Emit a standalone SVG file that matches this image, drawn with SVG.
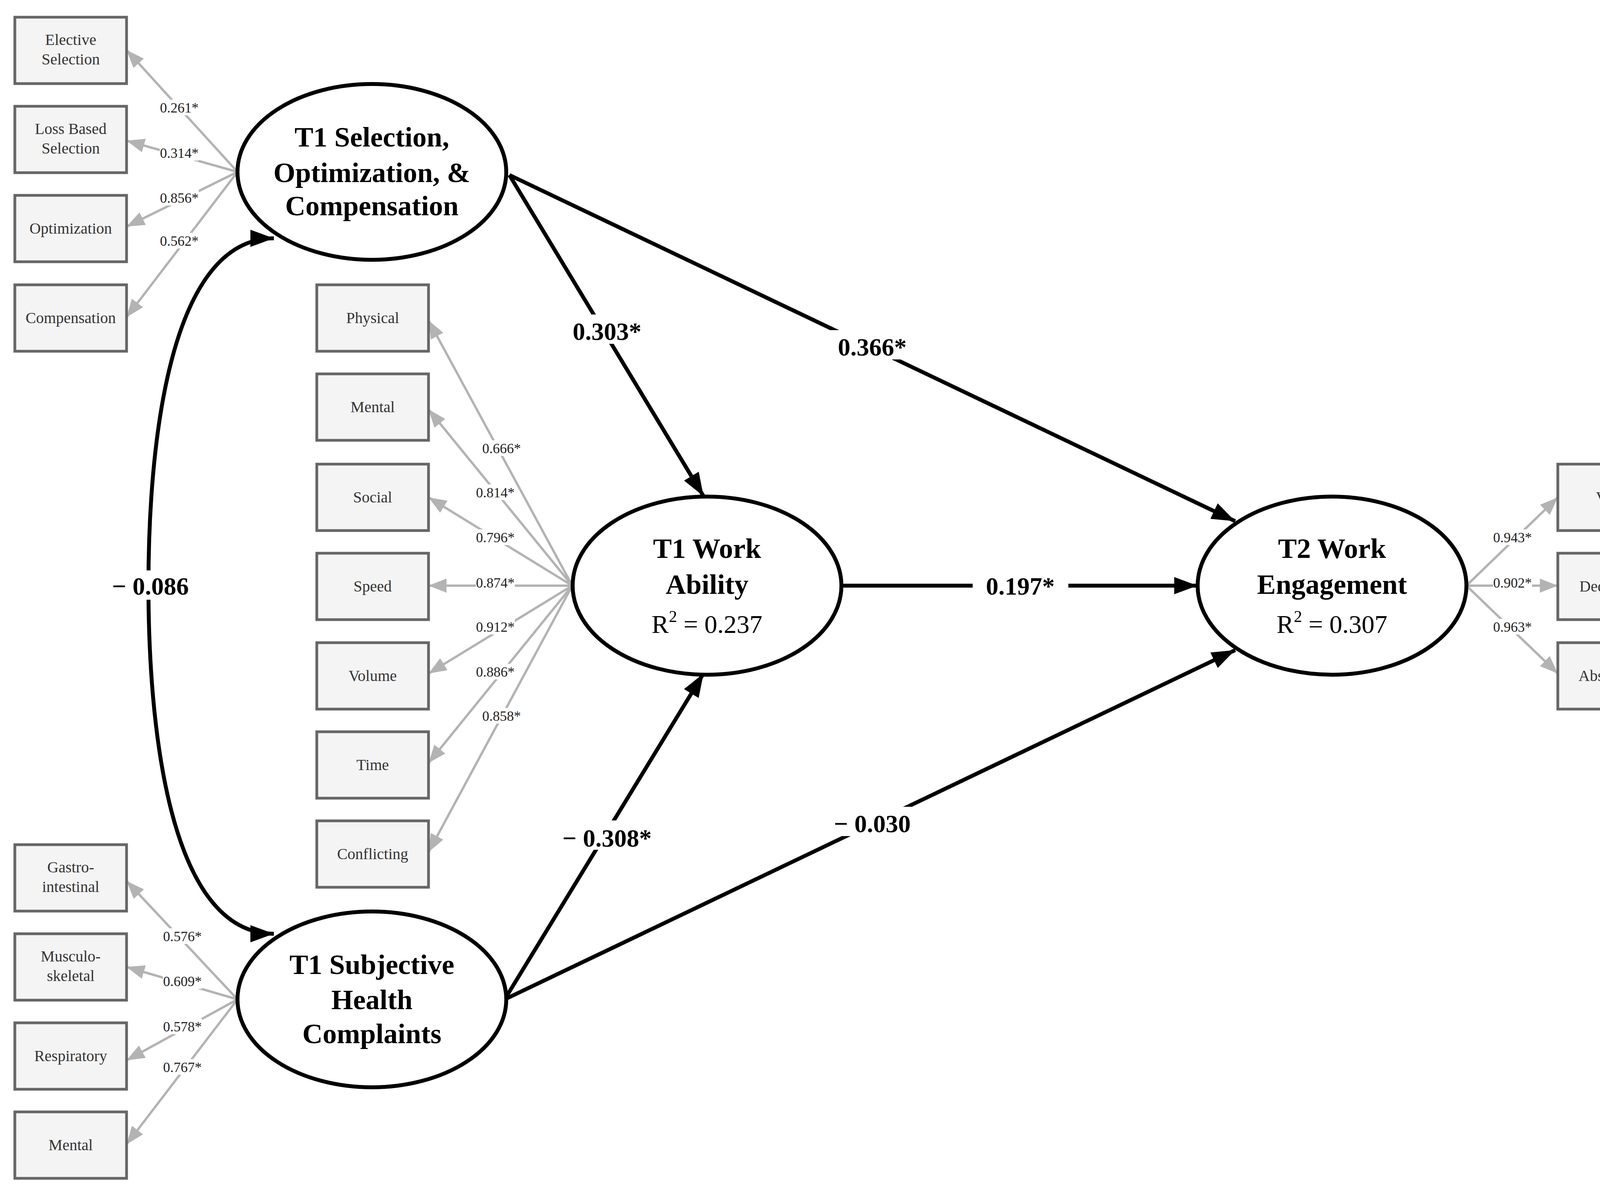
<svg xmlns="http://www.w3.org/2000/svg" width="4312" height="3051" viewBox="0 0 4312 3051">
<style>
.box{fill:#f4f4f4;stroke:#666;stroke-width:7}
.bt{font-family:"Liberation Serif",serif;font-size:40px;fill:#333;text-anchor:middle}
.ell{fill:#fff;stroke:#000;stroke-width:10}
.et{font-family:"Liberation Serif",serif;font-size:72px;font-weight:bold;text-anchor:middle}
.er{font-family:"Liberation Serif",serif;font-size:66px;text-anchor:middle}
.ld{stroke:#b3b3b3;stroke-width:6;fill:none;marker-end:url(#ga)}
.lt{font-family:"Liberation Serif",serif;font-size:36px;text-anchor:middle;fill:#222}
.st{stroke:#000;stroke-width:10;fill:none;marker-end:url(#ba)}
.sl{font-family:"Liberation Serif",serif;font-size:64px;font-weight:bold;text-anchor:middle}
</style>
<defs>
<marker id="ga" markerUnits="userSpaceOnUse" markerWidth="50" markerHeight="40" refX="46" refY="18" orient="auto"><path d="M0,0 L46,18 L0,36 z" fill="#b3b3b3"/></marker>
<marker id="ba" markerUnits="userSpaceOnUse" markerWidth="70" markerHeight="50" refX="60" refY="22" orient="auto"><path d="M0,0 L60,22 L0,44 z" fill="#000"/></marker>
<marker id="bs" markerUnits="userSpaceOnUse" markerWidth="70" markerHeight="50" refX="0" refY="22" orient="auto"><path d="M60,0 L0,22 L60,44 z" fill="#000"/></marker>
</defs>
<rect width="4312" height="3051" fill="#fff"/>
<g id="connectors">
<g>
<line class="ld" x1="608" y1="440" x2="324" y2="128"/>
<line class="ld" x1="608" y1="440" x2="324" y2="360"/>
<line class="ld" x1="608" y1="440" x2="324" y2="580"/>
<line class="ld" x1="608" y1="440" x2="324" y2="812"/>
<line class="ld" x1="1465" y1="1499" x2="1097" y2="820"/>
<line class="ld" x1="1465" y1="1499" x2="1097" y2="1048"/>
<line class="ld" x1="1465" y1="1499" x2="1097" y2="1273"/>
<line class="ld" x1="1465" y1="1499" x2="1097" y2="1499"/>
<line class="ld" x1="1465" y1="1499" x2="1097" y2="1724"/>
<line class="ld" x1="1465" y1="1499" x2="1097" y2="1953"/>
<line class="ld" x1="1465" y1="1499" x2="1097" y2="2181"/>
<line class="ld" x1="608" y1="2558" x2="324" y2="2255"/>
<line class="ld" x1="608" y1="2558" x2="324" y2="2475"/>
<line class="ld" x1="608" y1="2558" x2="324" y2="2714"/>
<line class="ld" x1="608" y1="2558" x2="324" y2="2929"/>
<line class="ld" x1="3754" y1="1499" x2="3988" y2="1273"/>
<line class="ld" x1="3754" y1="1499" x2="3988" y2="1499"/>
<line class="ld" x1="3754" y1="1499" x2="3988" y2="1724"/>
</g>
<g font-family="Liberation Serif" font-size="36" text-anchor="middle">
<g fill="#fff"><rect x="409" y="255" width="100" height="40"/><rect x="409" y="371" width="100" height="40"/><rect x="409" y="486" width="100" height="40"/><rect x="409" y="596" width="100" height="40"/>
<rect x="1234" y="1127" width="100" height="40"/><rect x="1218" y="1240" width="100" height="40"/><rect x="1218" y="1355" width="100" height="40"/><rect x="1218" y="1471" width="100" height="40"/><rect x="1218" y="1584" width="100" height="40"/><rect x="1218" y="1699" width="100" height="40"/><rect x="1234" y="1812" width="100" height="40"/>
<rect x="417" y="2376" width="100" height="40"/><rect x="417" y="2491" width="100" height="40"/><rect x="417" y="2607" width="100" height="40"/><rect x="417" y="2711" width="100" height="40"/>
<rect x="3822" y="1355" width="100" height="40"/><rect x="3822" y="1471" width="100" height="40"/><rect x="3822" y="1584" width="100" height="40"/></g>
<text class="lt" x="459" y="288">0.261*</text><text class="lt" x="459" y="404">0.314*</text><text class="lt" x="459" y="519">0.856*</text><text class="lt" x="459" y="629">0.562*</text>
<text class="lt" x="1284" y="1160">0.666*</text><text class="lt" x="1268" y="1273">0.814*</text><text class="lt" x="1268" y="1388">0.796*</text><text class="lt" x="1268" y="1504">0.874*</text><text class="lt" x="1268" y="1617">0.912*</text><text class="lt" x="1268" y="1732">0.886*</text><text class="lt" x="1284" y="1845">0.858*</text>
<text class="lt" x="467" y="2409">0.576*</text><text class="lt" x="467" y="2524">0.609*</text><text class="lt" x="467" y="2640">0.578*</text><text class="lt" x="467" y="2744">0.767*</text>
<text class="lt" x="3872" y="1388">0.943*</text><text class="lt" x="3872" y="1504">0.902*</text><text class="lt" x="3872" y="1617">0.963*</text>
</g>
<line class="st" x1="1304" y1="448" x2="1801" y2="1270"/>
<line class="st" x1="1304" y1="448" x2="3162" y2="1334"/>
<line class="st" x1="2159" y1="1499" x2="3066" y2="1499"/>
<line class="st" x1="1292" y1="2558" x2="1801" y2="1724"/>
<line class="st" x1="1292" y1="2558" x2="3162" y2="1664"/>
<path d="M701 610 C430 610 380 1150 380 1499 C380 1850 430 2390 701 2390" stroke="#000" stroke-width="10" fill="none" marker-start="url(#bs)" marker-end="url(#ba)"/>
<g fill="#fff"><rect x="1430" y="805" width="250" height="75"/><rect x="2105" y="845" width="260" height="75"/><rect x="2490" y="1460" width="245" height="75"/><rect x="1400" y="2100" width="310" height="75"/><rect x="2090" y="2065" width="290" height="75"/><rect x="245" y="1460" width="280" height="75"/></g>
<text class="sl" x="1554" y="870">0.303*</text>
<text class="sl" x="2233" y="910">0.366*</text>
<text class="sl" x="2612" y="1522">0.197*</text>
<text class="sl" x="1554" y="2167">− 0.308*</text>
<text class="sl" x="2233" y="2130">− 0.030</text>
<text class="sl" x="385" y="1522">− 0.086</text>
</g>
<g id="soc"><ellipse class="ell" cx="952" cy="440" rx="344" ry="225"/><text class="et" x="952" y="375">T1 Selection,</text><text class="et" x="952" y="466">Optimization, &amp;</text><text class="et" x="952" y="551">Compensation</text></g>
<g id="wa"><ellipse class="ell" cx="1810" cy="1499" rx="344" ry="228"/><text class="et" x="1810" y="1428">T1 Work</text><text class="et" x="1810" y="1520">Ability</text><text class="er" x="1810" y="1620">R<tspan font-size="42" dy="-28">2</tspan><tspan dy="28"> = 0.237</tspan></text></g>
<g id="we"><ellipse class="ell" cx="3410" cy="1499" rx="344" ry="228"/><text class="et" x="3410" y="1428">T2 Work</text><text class="et" x="3410" y="1520">Engagement</text><text class="er" x="3410" y="1620">R<tspan font-size="42" dy="-28">2</tspan><tspan dy="28"> = 0.307</tspan></text></g>
<g id="shc"><ellipse class="ell" cx="952" cy="2558" rx="344" ry="225"/><text class="et" x="952" y="2493">T1 Subjective</text><text class="et" x="952" y="2583">Health</text><text class="et" x="952" y="2670">Complaints</text></g>
<g id="n-elective"><rect class="box" x="38" y="44" width="286" height="170"/><text class="bt" x="181" y="115">Elective</text><text class="bt" x="181" y="165">Selection</text></g>
<g id="n-loss"><rect class="box" x="38" y="272" width="286" height="170"/><text class="bt" x="181" y="343">Loss Based</text><text class="bt" x="181" y="393">Selection</text></g>
<g id="n-optim"><rect class="box" x="38" y="500" width="286" height="170"/><text class="bt" x="181" y="598">Optimization</text></g>
<g id="n-comp"><rect class="box" x="38" y="729" width="286" height="170"/><text class="bt" x="181" y="827">Compensation</text></g>
<g id="n-physical"><rect class="box" x="811" y="729" width="286" height="170"/><text class="bt" x="954" y="827">Physical</text></g>
<g id="n-mental1"><rect class="box" x="811" y="957" width="286" height="170"/><text class="bt" x="954" y="1055">Mental</text></g>
<g id="n-social"><rect class="box" x="811" y="1188" width="286" height="170"/><text class="bt" x="954" y="1286">Social</text></g>
<g id="n-speed"><rect class="box" x="811" y="1416" width="286" height="170"/><text class="bt" x="954" y="1514">Speed</text></g>
<g id="n-volume"><rect class="box" x="811" y="1645" width="286" height="170"/><text class="bt" x="954" y="1743">Volume</text></g>
<g id="n-time"><rect class="box" x="811" y="1873" width="286" height="170"/><text class="bt" x="954" y="1971">Time</text></g>
<g id="n-conflicting"><rect class="box" x="811" y="2101" width="286" height="170"/><text class="bt" x="954" y="2199">Conflicting</text></g>
<g id="n-gastro"><rect class="box" x="38" y="2162" width="286" height="170"/><text class="bt" x="181" y="2233">Gastro-</text><text class="bt" x="181" y="2283">intestinal</text></g>
<g id="n-musculo"><rect class="box" x="38" y="2390" width="286" height="170"/><text class="bt" x="181" y="2461">Musculo-</text><text class="bt" x="181" y="2511">skeletal</text></g>
<g id="n-resp"><rect class="box" x="38" y="2618" width="286" height="170"/><text class="bt" x="181" y="2716">Respiratory</text></g>
<g id="n-mental2"><rect class="box" x="38" y="2846" width="286" height="170"/><text class="bt" x="181" y="2944">Mental</text></g>
<g id="n-vigor"><rect class="box" x="3988" y="1188" width="286" height="170"/><text class="bt" x="4131" y="1286">Vigor</text></g>
<g id="n-dedication"><rect class="box" x="3988" y="1416" width="286" height="170"/><text class="bt" x="4131" y="1514">Dedication</text></g>
<g id="n-absorbtion"><rect class="box" x="3988" y="1645" width="286" height="170"/><text class="bt" x="4131" y="1743">Absorbtion</text></g>
</svg>
